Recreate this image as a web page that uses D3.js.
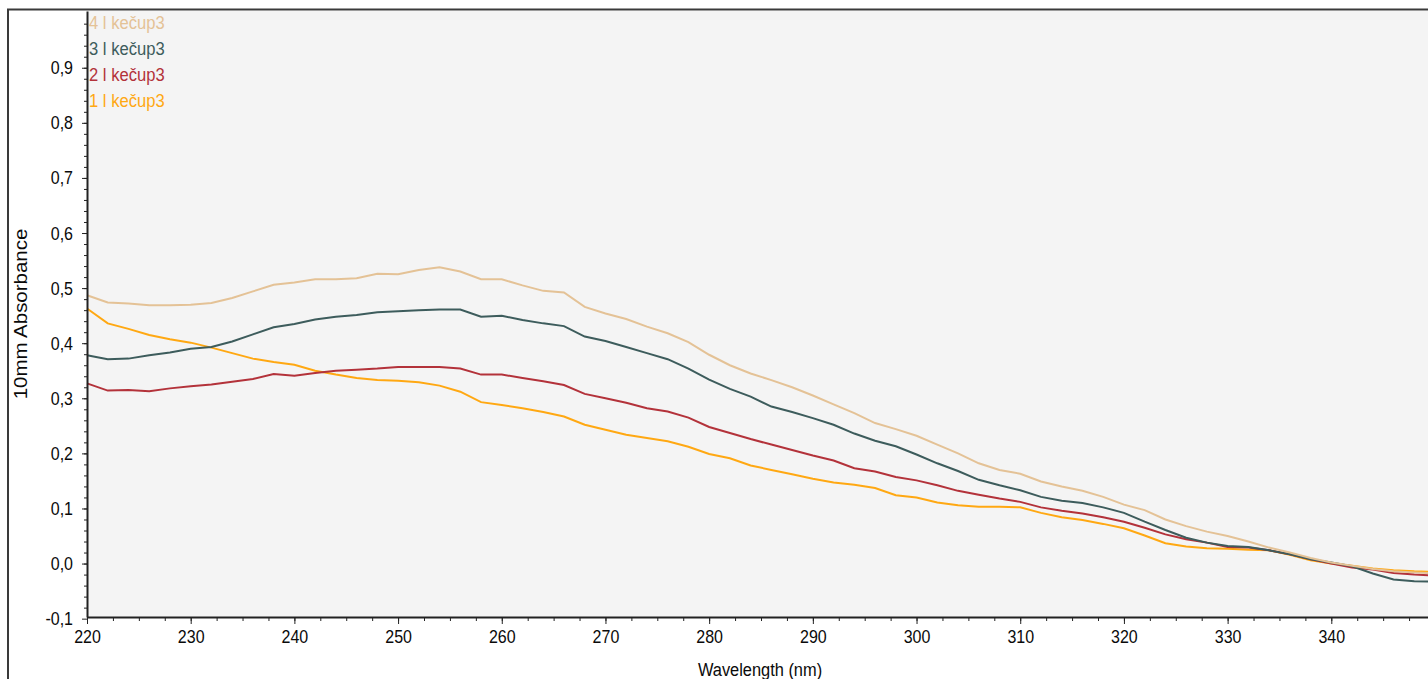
<!DOCTYPE html>
<html lang="sk">
<head>
  <meta charset="UTF-8">
  <title>Absorbance spectra – kečup3</title>
  <style>
    html, body { margin: 0; padding: 0; background: #fff; }
    svg   { display: block; font-family: "Liberation Sans", Arial, sans-serif; }
    .axis path, .axis line { stroke: #222; }
    .axis text { fill: #0a0a0a; font-size: 16px; }
    .spec { fill: none; stroke-width: 2px; }
  </style>
</head>
<body>
  <svg id="chart" width="1428" height="679"></svg>

  <script src="https://d3js.org/d3.v7.min.js"></script>
  <script>
    /* ---------- data: every 2 nm ---------- */
    const wavelengths = d3.range(220, 351, 2);

    const kecup4 = [0.487,0.474,0.472,0.469,0.469,0.470,0.473,0.482,0.494,0.506,0.510,0.516,0.516,0.518,0.526,0.525,
      0.533,0.538,0.530,0.516,0.516,0.505,0.495,0.492,0.466,0.454,0.444,0.430,0.418,0.402,0.379,0.360,0.345,0.333,
      0.320,0.305,0.289,0.273,0.255,0.244,0.232,0.216,0.200,0.182,0.170,0.163,0.149,0.140,0.132,0.121,0.107,0.097,
      0.080,0.068,0.058,0.050,0.040,0.029,0.020,0.010,0.002,-0.004,-0.010,-0.014,-0.016,-0.018];

    const kecup3 = [0.378,0.371,0.372,0.378,0.383,0.390,0.393,0.403,0.416,0.429,0.435,0.443,0.448,0.451,0.456,0.458,
      0.460,0.461,0.461,0.448,0.450,0.442,0.436,0.431,0.412,0.404,0.393,0.382,0.371,0.354,0.334,0.317,0.303,0.285,
      0.275,0.264,0.252,0.236,0.223,0.213,0.198,0.182,0.168,0.152,0.142,0.133,0.121,0.114,0.110,0.102,0.092,0.076,
      0.061,0.047,0.038,0.032,0.030,0.024,0.017,0.008,0.002,-0.005,-0.018,-0.029,-0.032,-0.033];

    const kecup2 = [0.327,0.314,0.315,0.313,0.318,0.322,0.325,0.330,0.335,0.344,0.341,0.346,0.350,0.352,0.354,0.357,
      0.357,0.357,0.354,0.343,0.343,0.337,0.331,0.324,0.308,0.300,0.292,0.282,0.276,0.265,0.248,0.237,0.226,0.216,
      0.206,0.196,0.187,0.173,0.167,0.157,0.151,0.142,0.132,0.125,0.118,0.112,0.102,0.096,0.091,0.084,0.076,0.065,
      0.053,0.044,0.038,0.030,0.029,0.024,0.017,0.008,0.000,-0.007,-0.011,-0.017,-0.020,-0.022];

    const kecup1 = [0.463,0.436,0.426,0.415,0.407,0.401,0.392,0.382,0.372,0.366,0.361,0.350,0.343,0.337,0.333,0.332,
      0.329,0.323,0.312,0.293,0.288,0.282,0.275,0.267,0.252,0.243,0.234,0.228,0.222,0.212,0.199,0.191,0.178,0.170,
      0.162,0.154,0.147,0.143,0.137,0.124,0.120,0.111,0.106,0.103,0.103,0.102,0.092,0.084,0.079,0.072,0.064,0.051,
      0.037,0.031,0.028,0.027,0.025,0.024,0.016,0.006,0.000,-0.004,-0.009,-0.012,-0.014,-0.015];

    // legend order top to bottom
    const seriesNames  = ["4 l kečup3", "3 l kečup3", "2 l kečup3", "1 l kečup3"];
    const seriesColors = ["#e4c296", "#3d5c5c", "#b3323a", "#ffa812"];
    const seriesValues = [kecup4, kecup3, kecup2, kecup1];

    const xTicks = d3.range(220, 341, 10);
    const yTicks = d3.range(-0.1, 0.95, 0.1).map(v => +v.toFixed(1));

    /* ---------- scales ---------- */
    const plot = { left: 87, top: 11, right: 1435, bottom: 617 };

    const x = d3.scaleLinear().domain([220, 350]).range([plot.left, plot.right]);
    const y = d3.scaleLinear().domain([-0.097, 1.003]).range([plot.bottom, plot.top]);

    const svg = d3.select('#chart');

    // outer frame
    svg.append('path')
       .attr('d', `M8,690 L8,9.5 L1440,9.5`)
       .attr('fill', 'none').attr('stroke', '#3a3a3a').attr('stroke-width', 2);

    // plot background
    svg.append('rect')
       .attr('x', plot.left).attr('y', plot.top)
       .attr('width', plot.right - plot.left).attr('height', plot.bottom - plot.top)
       .attr('fill', '#f4f4f4');

    /* ---------- spectra ---------- */
    const line = d3.line()
                   .x((d, i) => x(wavelengths[i]))
                   .y(d => y(d));

    svg.append('g')
       .selectAll('path.spec')
       .data(seriesValues.slice().reverse())
       .enter().append('path')
       .attr('class', 'spec')
       .attr('stroke', (d, i) => seriesColors[seriesColors.length - 1 - i])
       .attr('d', line);

    /* ---------- axes ---------- */
    const fmt = v => d3.format('.1f')(v).replace('.', ',').replace('−', '-');

    // minor ticks
    svg.append('g')
       .attr('class', 'axis')
       .attr('transform', `translate(0,${plot.bottom})`)
       .call(d3.axisBottom(x).tickValues(d3.range(220, 350, 2.5)).tickSize(4).tickFormat(''))
       .call(g => g.select('.domain').remove());
    svg.append('g')
       .attr('class', 'axis')
       .attr('transform', `translate(${plot.left},0)`)
       .call(d3.axisLeft(y).tickValues(d3.range(-0.08, 1.0, 0.02)).tickSize(3).tickFormat(''))
       .call(g => g.select('.domain').remove());

    // major ticks + labels
    const xAxis = svg.append('g')
       .attr('class', 'axis')
       .attr('transform', `translate(0,${plot.bottom})`)
       .call(d3.axisBottom(x).tickValues(xTicks).tickSize(7).tickSizeOuter(0).tickPadding(6).tickFormat(d3.format('d')));
    xAxis.select('.domain').attr('stroke-width', 2);
    xAxis.selectAll('text').attr('transform', 'scale(1,1.13)').attr('dy', '0.6em');

    const yAxis = svg.append('g')
       .attr('class', 'axis')
       .attr('transform', `translate(${plot.left},0)`)
       .call(d3.axisLeft(y).tickValues(yTicks).tickSize(5).tickSizeOuter(0).tickPadding(9).tickFormat(fmt));
    yAxis.select('.domain').attr('stroke-width', 2);
    yAxis.selectAll('.tick text')
         .attr('dy', null)
         .attr('transform', 'translate(0,6) scale(1,1.13)');

    // axis titles
    svg.append('text')
       .attr('transform', `translate(760,676) scale(1,1.16)`)
       .attr('text-anchor', 'middle')
       .attr('font-size', 16.4)
       .attr('fill', '#0a0a0a')
       .text('Wavelength (nm)');

    svg.append('text')
       .attr('transform', 'translate(27,314) rotate(-90) scale(1.1,1)')
       .attr('text-anchor', 'middle')
       .attr('font-size', 18.6)
       .attr('fill', '#0a0a0a')
       .text('10mm Absorbance');

    /* ---------- legend ---------- */
    svg.append('g')
       .selectAll('text')
       .data(seriesNames)
       .enter().append('text')
       .attr('transform', (d, i) => `translate(89,${28.5 + i * 26}) scale(1,1.1)`)
       .attr('font-size', 16.6)
       .attr('fill', (d, i) => seriesColors[i])
       .text(d => d);
  </script>
</body>
</html>
